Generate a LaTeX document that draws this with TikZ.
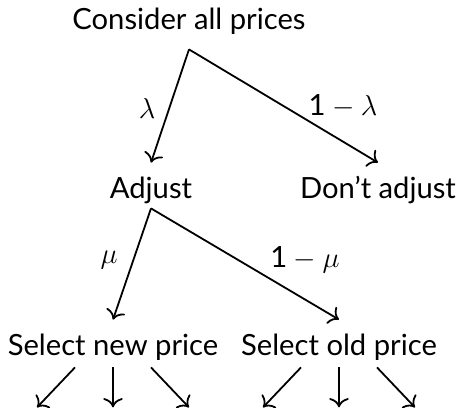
\documentclass[tikz,border=0pt]{standalone}
\usepackage{amsmath}
\usepackage{fontspec}
\setmainfont{Lato}
\usetikzlibrary{calc, arrows.meta}

\begin{document}
\begin{tikzpicture}[x=0.5pt, y=-0.5pt,
        choice/.style={anchor=base, font=\fontsize{14.6}{17}\selectfont, inner xsep=0pt, inner ysep=0pt, text height=17.5pt, text depth=5pt},
        prob/.style={font=\fontsize{14.6}{17}\selectfont, inner sep=0pt},
        arrow/.style={-{To[scale=1.3]}, line width=0.9pt}
    ]
        \useasboundingbox (0,0) rectangle (457,408);

        % Decision levels
        \node[choice, text depth=10pt] (all) at (189,29) {Consider all prices};
        \node[choice] (adj) at (151,198) {Adjust};
        \node[choice] (keep) at (378,198) {Don’t adjust};
        \node[choice, text depth=6pt] (new) at (113,355) {Select new price};
        \node[choice, text depth=6pt] (old) at (339,355) {Select old price};

        % Branches with probabilities
        \draw[arrow] (all.south) -- (adj.north);
        \draw[arrow] (all.south) -- (keep.north);
        \draw[arrow] (adj.south) -- (new.north);
        \draw[arrow] (adj.south) -- (old.north);

        \node[prob] (plam) at (147,108) {$\lambda$};
        \node[prob] (qlam) at (343,106) {$\text{1}-\lambda$};
        \node[prob] (pmu) at (109,260) {$\mu$};
        \node[prob] (qmu) at (305,260) {$\text{1}-\mu$};

        % Price draws (continue below)
        \foreach \src in {new, old} {
            \foreach \dx [count=\i] in {-38, 0, 38} {
                \coordinate (\src-end\i) at ($(\src.south)+(2*\dx,40)$);
                \draw[arrow] ($(\src.south)+(\dx,0)$) -- (\src-end\i);
            }
        }

    \end{tikzpicture}
\end{document}
